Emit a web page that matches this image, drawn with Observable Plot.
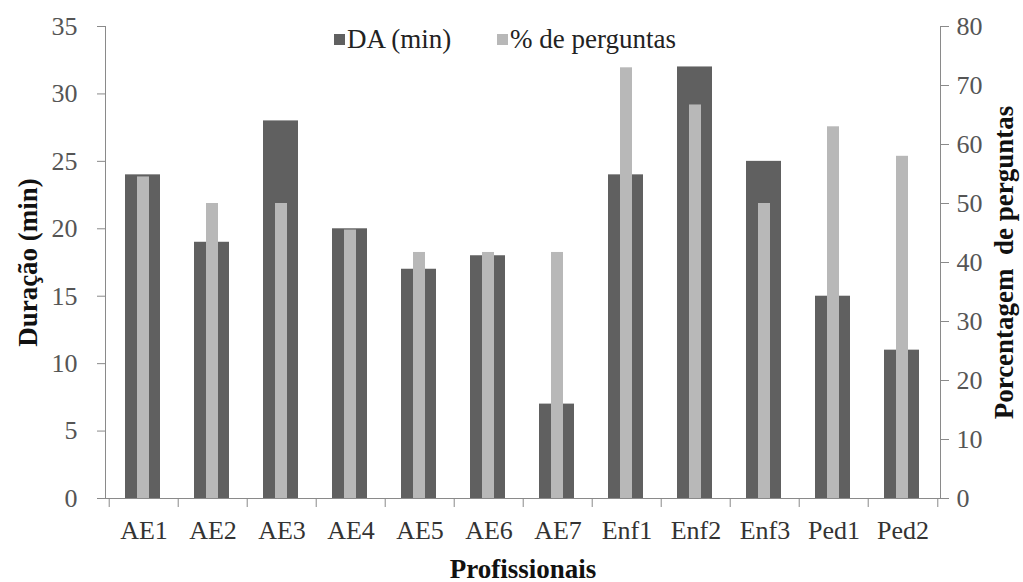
<!DOCTYPE html>
<html><head><meta charset="utf-8">
<script src="https://cdn.jsdelivr.net/npm/d3@7"></script>
<script src="https://cdn.jsdelivr.net/npm/@observablehq/plot@0.6"></script>
<style>
body{margin:0;background:#fff;font-family:'Liberation Serif',serif;}
#wrap{position:relative;width:1023px;height:582px;}
#wrap svg text{font-family:'Liberation Serif',serif;}
.lg{position:absolute;font-family:'Liberation Serif',serif;font-size:27px;line-height:30px;color:#222;white-space:nowrap;}
.sw{position:absolute;width:11px;height:11px;}
</style>
</head><body>
<div id="wrap">
  <div class="sw" style="left:334px;top:34px;background:#606060"></div>
  <div class="lg" style="left:347px;top:24px;">DA (min)</div>
  <div class="sw" style="left:497px;top:34px;background:#b8b8b8"></div>
  <div class="lg" style="left:510px;top:24px;">% de perguntas</div>
</div>
<script>
const categories = ["AE1","AE2","AE3","AE4","AE5","AE6","AE7","Enf1","Enf2","Enf3","Ped1","Ped2"];
const daMin = [24, 19, 28, 20, 17, 18, 7, 24, 32, 25, 15, 11];
const pctPerguntas = [54.5, 50, 50, 45.5, 41.7, 41.7, 41.7, 73, 66.7, 50, 63, 58];
const leftTicks = [0,5,10,15,20,25,30,35];
const rightTicks = [0,10,20,30,40,50,60,70,80];
const leftMax = 35, rightMax = 80;

const data = categories.map((c,i)=>({cat:c, da:daMin[i], pct:pctPerguntas[i], pctScaled:pctPerguntas[i]*leftMax/rightMax}));

const W = 1023, H = 582, mL = 105, mR = 83, mT = 26, mB = 84;
const bw = (W - mL - mR) / categories.length;
const FF = "'Liberation Serif', serif";

const chart = Plot.plot({
  width: W, height: H,
  marginLeft: mL, marginRight: mR, marginTop: mT, marginBottom: mB,
  style: {fontFamily: FF, fontSize: "26px", color: "#444", background: "#fff"},
  x: {domain: categories, padding: 0, label: null},
  y: {domain: [0, leftMax], label: null},
  marks: [
    Plot.barY(data, {x:"cat", y:"da", fill:"#606060", insetLeft:16, insetRight:18}),
    Plot.barY(data, {x:"cat", y:"pctScaled", fill:"#b8b8b8", insetLeft:28, insetRight:29}),
    Plot.frame({anchor:"left", stroke:"#8a8a8a"}),
    Plot.frame({anchor:"right", stroke:"#8a8a8a"}),
    Plot.ruleY([0], {stroke:"#8a8a8a"}),
    Plot.axisY({anchor:"left", ticks: leftTicks, tickSize: 8, tickPadding: 20, stroke:"#8a8a8a", fill:"#555", label:null}),
    Plot.axisY({anchor:"right", ticks: rightTicks.map(t=>t*leftMax/rightMax), tickFormat: d=>String(Math.round(d*rightMax/leftMax)), tickSize: 8, tickPadding: 8, stroke:"#8a8a8a", fill:"#555", label:null}),
    Plot.axisX({anchor:"bottom", tickSize: 0, tickPadding: 22, fill:"#333", label:null}),
    Plot.axisX({anchor:"bottom", tickSize: 9, tickFormat: ()=>"", dx: -bw/2, stroke:"#8a8a8a", label:null}),
    Plot.axisX({anchor:"bottom", ticks:[categories[categories.length-1]], tickSize: 9, tickFormat: ()=>"", dx: bw/2, stroke:"#8a8a8a", label:null}),
    Plot.text(["Profissionais"], {frameAnchor:"bottom", textAnchor:"middle", dy: 79, fontWeight:"bold", fontSize:27, fill:"#111"}),
    Plot.text(["Duração (min)"], {frameAnchor:"left", textAnchor:"middle", dx: -77, rotate:-90, fontWeight:"bold", fontSize:27, fill:"#111"}),
    Plot.text(["Porcentagem  de perguntas"], {frameAnchor:"right", textAnchor:"middle", dx: 64, rotate:-90, fontWeight:"bold", fontSize:27, fill:"#111"})
  ]
});
document.getElementById("wrap").prepend(chart);
</script>
</body></html>
